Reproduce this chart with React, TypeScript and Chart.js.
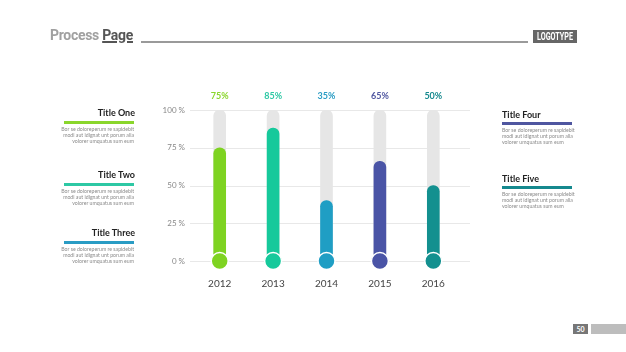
import React, { useEffect, useRef } from "react";
import { Chart, registerables } from "chart.js";

Chart.register(...registerables);

const years = ["2012", "2013", "2014", "2015", "2016"];
const fillValues = [75, 88, 40, 66, 50];
const trackValues = [100, 100, 100, 100, 100];
const percentLabels = ["75%", "85%", "35%", "65%", "50%"];
const barColors = ["#7ed321", "#16c99b", "#1f9ec4", "#4a54a6", "#13908f"];
const labelColors = ["#8ad62c", "#2dc8a4", "#2a9cc4", "#4f56a0", "#15898e"];
const yTicks = [0, 25, 50, 75, 100];

const leftTitles = ["Title One", "Title Two", "Title Three"];
const rightTitles = ["Title Four", "Title Five"];
const leftColors = ["#8ad62c", "#2dc8a4", "#2a9cc4"];
const rightColors = ["#4f56a0", "#15898e"];
const descLines = ["Bor se doloreperum re sapidebit", "modi aut idignat unt porum alia", "volorer umquatus sum eum"];

const FONT = "Lato, 'Open Sans', sans-serif";

export default function App() {
  const ref = useRef<HTMLCanvasElement | null>(null);

  useEffect(() => {
    if (!ref.current) return;
    const topLabels = {
      id: "topLabels",
      afterDatasetsDraw(chart: any) {
        const ctx = chart.ctx;
        const xs = chart.scales.x;
        ctx.save();
        ctx.font = `bold 9px ${FONT}`;
        ctx.textAlign = "center";
        ctx.textBaseline = "middle";
        percentLabels.forEach((t, i) => {
          ctx.fillStyle = labelColors[i];
          ctx.fillText(t, xs.getPixelForValue(i), 96);
        });
        ctx.restore();
      },
    };
    const gridPlugin = {
      id: "gridExt",
      beforeDatasetsDraw(chart: any) {
        const ctx = chart.ctx;
        const ys = chart.scales.y;
        ctx.save();
        ctx.strokeStyle = "#e8e8e8";
        ctx.lineWidth = 1;
        yTicks.forEach((v) => {
          const y = Math.round(ys.getPixelForValue(v)) + 0.5;
          ctx.beginPath();
          ctx.moveTo(chart.chartArea.left - 3, y);
          ctx.lineTo(chart.chartArea.right + 10, y);
          ctx.stroke();
        });
        ctx.restore();
      },
    };
    const chart = new Chart(ref.current, {
      type: "bar",
      data: {
        labels: years,
        datasets: [
          {
            type: "scatter" as any,
            data: years.map((_, i) => ({ x: i, y: 0 })) as any,
            pointRadius: 8.5,
            pointHoverRadius: 8.5,
            pointBackgroundColor: barColors,
            pointBorderColor: "#ffffff",
            pointBorderWidth: 1.5,
            showLine: false,
            clip: false as any,
            order: 0,
          } as any,
          {
            data: fillValues,
            backgroundColor: barColors,
            barThickness: 12,
            borderRadius: { topLeft: 6, topRight: 6, bottomLeft: 0, bottomRight: 0 },
            borderSkipped: false,
            grouped: false,
            order: 1,
          } as any,
          {
            data: trackValues,
            backgroundColor: "#e6e6e6",
            barThickness: 12,
            borderRadius: 6,
            borderSkipped: false,
            grouped: false,
            order: 2,
          } as any,
        ],
      },
      options: {
        animation: false,
        responsive: false,
        events: [],
        layout: { padding: { left: 150, right: 166, top: 110, bottom: 61 } },
        plugins: { legend: { display: false }, tooltip: { enabled: false } },
        scales: {
          x: {
            type: "category",
            offset: true,
            grid: { display: false, drawTicks: false },
            border: { display: false },
            ticks: { color: "#444", font: { size: 10, family: FONT }, padding: 17 },
            afterFit: (s: any) => { s.height = 30; },
          },
          y: {
            min: 0,
            max: 100,
            grid: { display: false, drawTicks: false },
            border: { display: false },
            ticks: {
              stepSize: 25,
              color: "#888",
              padding: 8,
              font: { size: 8, family: FONT },
              callback: (v: any) => `${v} %`,
            },
            afterFit: (s: any) => { s.width = 43; },
          },
        },
      },
      plugins: [gridPlugin, topLabels],
    });
    return () => chart.destroy();
  }, []);

  const leftY = [113, 175, 233];
  const rightY = [115, 179];

  const titleStyle = (top: number): React.CSSProperties => ({
    position: "absolute",
    top: top - 6,
    fontFamily: FONT,
    fontWeight: 700,
    fontSize: 9,
    color: "#222",
    lineHeight: "12px",
    whiteSpace: "nowrap",
  });

  return (
    <div style={{ position: "fixed", left: 0, top: 0, width: 626, height: 352, background: "#fff", overflow: "hidden" }}>
      <canvas ref={ref} width={626} height={352} style={{ position: "absolute", left: 0, top: 0, width: 626, height: 352 }} />
      {/* header */}
      <div style={{ position: "absolute", left: 50, top: 27, fontFamily: "Roboto, sans-serif", fontWeight: 700, fontSize: 14, lineHeight: "16px", letterSpacing: -0.3, whiteSpace: "nowrap" }}>
        <span style={{ color: "#a0a0a0" }}>Process </span>
        <span style={{ color: "#555", textDecoration: "underline", textDecorationThickness: 1.5 }}>Page</span>
      </div>
      <div style={{ position: "absolute", left: 141, top: 41, width: 387, height: 1.5, background: "#9a9a9a" }} />
      <div style={{ position: "absolute", left: 533, top: 30, width: 44, height: 13, background: "#666", overflow: "hidden" }}>
        <div style={{ position: "absolute", left: "50%", top: 0, transform: "translateX(-50%) scaleX(0.72)", color: "#fff", fontFamily: "Roboto, sans-serif", fontWeight: 700, fontSize: 10, lineHeight: "13px", whiteSpace: "nowrap" }}>LOGOTYPE</div>
      </div>
      {/* left titles */}
      {leftTitles.map((t, i) => (
        <React.Fragment key={t}>
          <div style={{ ...titleStyle(leftY[i]), right: 626 - 135, textAlign: "right" }}>{t}</div>
          <div style={{ position: "absolute", left: 64, top: leftY[i] + 8, width: 70, height: 2.5, background: leftColors[i] }} />
          <div style={{ position: "absolute", right: 626 - 134, top: leftY[i] + 14, textAlign: "right", fontFamily: FONT, fontSize: 5.2, lineHeight: "5.8px", color: "#8a8a8a", whiteSpace: "nowrap" }}>
            {descLines.map((l) => <div key={l}>{l}</div>)}
          </div>
        </React.Fragment>
      ))}
      {/* right titles */}
      {rightTitles.map((t, i) => (
        <React.Fragment key={t}>
          <div style={{ ...titleStyle(rightY[i]), left: 502 }}>{t}</div>
          <div style={{ position: "absolute", left: 502, top: rightY[i] + 7, width: 70, height: 2.5, background: rightColors[i] }} />
          <div style={{ position: "absolute", left: 502, top: rightY[i] + 13, fontFamily: FONT, fontSize: 5.2, lineHeight: "5.8px", color: "#8a8a8a", whiteSpace: "nowrap" }}>
            {descLines.map((l) => <div key={l}>{l}</div>)}
          </div>
        </React.Fragment>
      ))}
      {/* footer */}
      <div style={{ position: "absolute", left: 573, top: 324, width: 15, height: 10, background: "#777", color: "#fff", fontFamily: FONT, fontWeight: 700, fontSize: 7, lineHeight: "10px", textAlign: "center" }}>50</div>
      <div style={{ position: "absolute", left: 591, top: 324, width: 35, height: 10, background: "#bdbdbd" }} />
    </div>
  );
}
